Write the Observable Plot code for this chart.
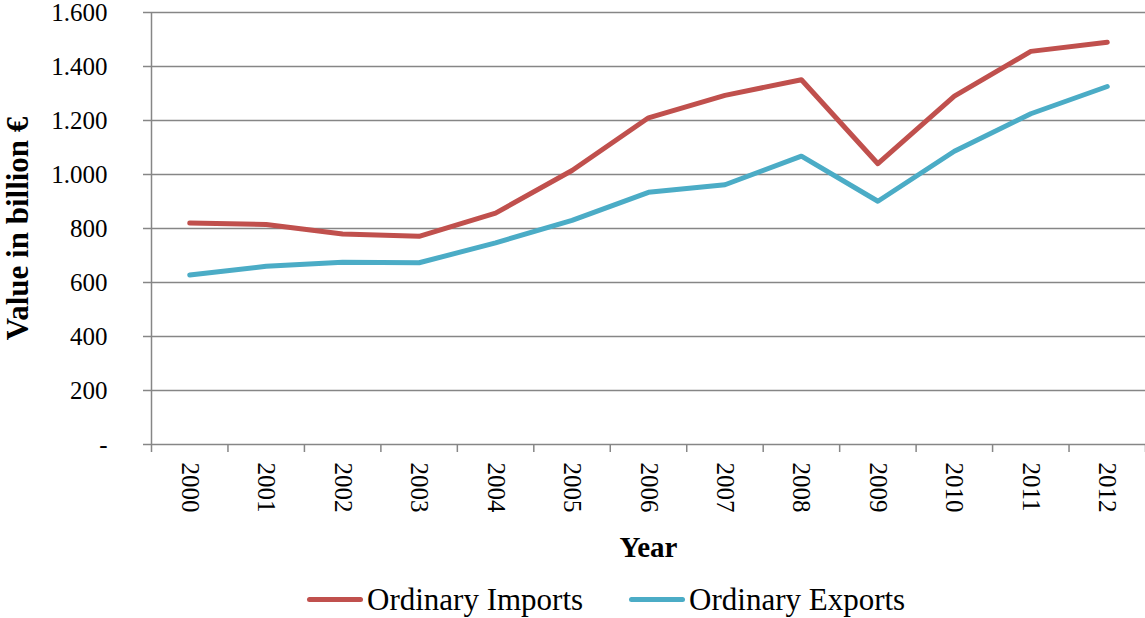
<!DOCTYPE html>
<html>
<head>
<meta charset="utf-8">
<script src="https://cdn.jsdelivr.net/npm/d3@7"></script>
<script src="https://cdn.jsdelivr.net/npm/@observablehq/plot@0.6"></script>
<style>
  html, body { margin: 0; padding: 0; background: #fff; }
  body { position: relative; width: 1145px; height: 618px; overflow: hidden; font-family: "Liberation Serif", "Times New Roman", serif; }
  #legend { position: absolute; left: 307px; top: 584px; display: flex; align-items: center; font-size: 31px; line-height: 31px; color: #000; white-space: nowrap; }
  #legend .item { display: flex; align-items: center; }
  #legend .swatch { width: 56px; height: 5px; border-radius: 3px; margin-right: 4px; }
  #legend .item + .item { margin-left: 46px; }
</style>
</head>
<body>
<div id="chart"></div>
<div id="legend"></div>
<script>
// Ordinary trade, value in billion €
const years = [2000, 2001, 2002, 2003, 2004, 2005, 2006, 2007, 2008, 2009, 2010, 2011, 2012];
const imports = [820, 815, 780, 771, 857, 1015, 1210, 1293, 1351, 1040, 1290, 1456, 1490];
const exports = [628, 660, 675, 673, 747, 830, 934, 962, 1068, 901, 1086, 1225, 1326];
const seriesNames = ["Ordinary Imports", "Ordinary Exports"];
const seriesColors = ["#C0504D", "#4BACC6"];
const yTicks = [0, 200, 400, 600, 800, 1000, 1200, 1400, 1600];

const rows = [
  ...years.map((year, i) => ({year, value: imports[i], series: seriesNames[0]})),
  ...years.map((year, i) => ({year, value: exports[i], series: seriesNames[1]}))
];

// category boundaries for the x tick marks
const boundaries = [...years.map(y => y - 0.5), years[years.length - 1] + 0.5];

const grey = "#868686";
const fmtY = d => d === 0 ? "-" : d3.format(",")(d).replace(/,/g, ".");

const chart = Plot.plot({
  width: 1145,
  height: 575,
  marginTop: 12,
  marginBottom: 131,
  marginLeft: 151,
  marginRight: 0,
  style: {fontFamily: "'Liberation Serif', 'Times New Roman', serif", fontSize: "25px", background: "#fff", color: "#000"},
  x: {domain: [boundaries[0], boundaries[boundaries.length - 1]], label: null},
  y: {domain: [0, 1600], label: null},
  color: {domain: seriesNames, range: seriesColors},
  marks: [
    Plot.gridY(yTicks, {stroke: grey, strokeOpacity: 1, strokeWidth: 1.5}),
    Plot.ruleX([boundaries[0]], {y1: 0, y2: 1600, stroke: grey, strokeWidth: 1.5}),
    Plot.axisY({ticks: yTicks, tickFormat: fmtY, tickSize: 8, tickPadding: 36, stroke: grey, strokeWidth: 1.5, fill: "#000", fontSize: 25, label: null}),
    Plot.axisX({ticks: boundaries, tickFormat: () => "", tickSize: 8, stroke: grey, strokeWidth: 1.5, label: null}),
    Plot.axisX({ticks: years, tickFormat: d => String(d), tickSize: 0, tickPadding: 18, tickRotate: 90, fill: "#000", fontSize: 25, label: null}),
    Plot.line(rows, {x: "year", y: "value", stroke: "series", strokeWidth: 5, strokeLinecap: "round", strokeLinejoin: "round"}),
    Plot.text(["Year"], {frameAnchor: "bottom", lineAnchor: "bottom", dy: 112, fontSize: 29, fontWeight: "bold", fill: "#000"}),
    Plot.text(["Value in billion €"], {frameAnchor: "left", textAnchor: "middle", rotate: -90, dx: -133, fontSize: 31, fontWeight: "bold", fill: "#000"})
  ]
});
document.getElementById("chart").appendChild(chart);

// legend below the chart
const legend = d3.select("#legend");
seriesNames.forEach((name, i) => {
  const item = legend.append("div").attr("class", "item");
  item.append("div").attr("class", "swatch").style("background", seriesColors[i]);
  item.append("span").text(name);
});
</script>
</body>
</html>
